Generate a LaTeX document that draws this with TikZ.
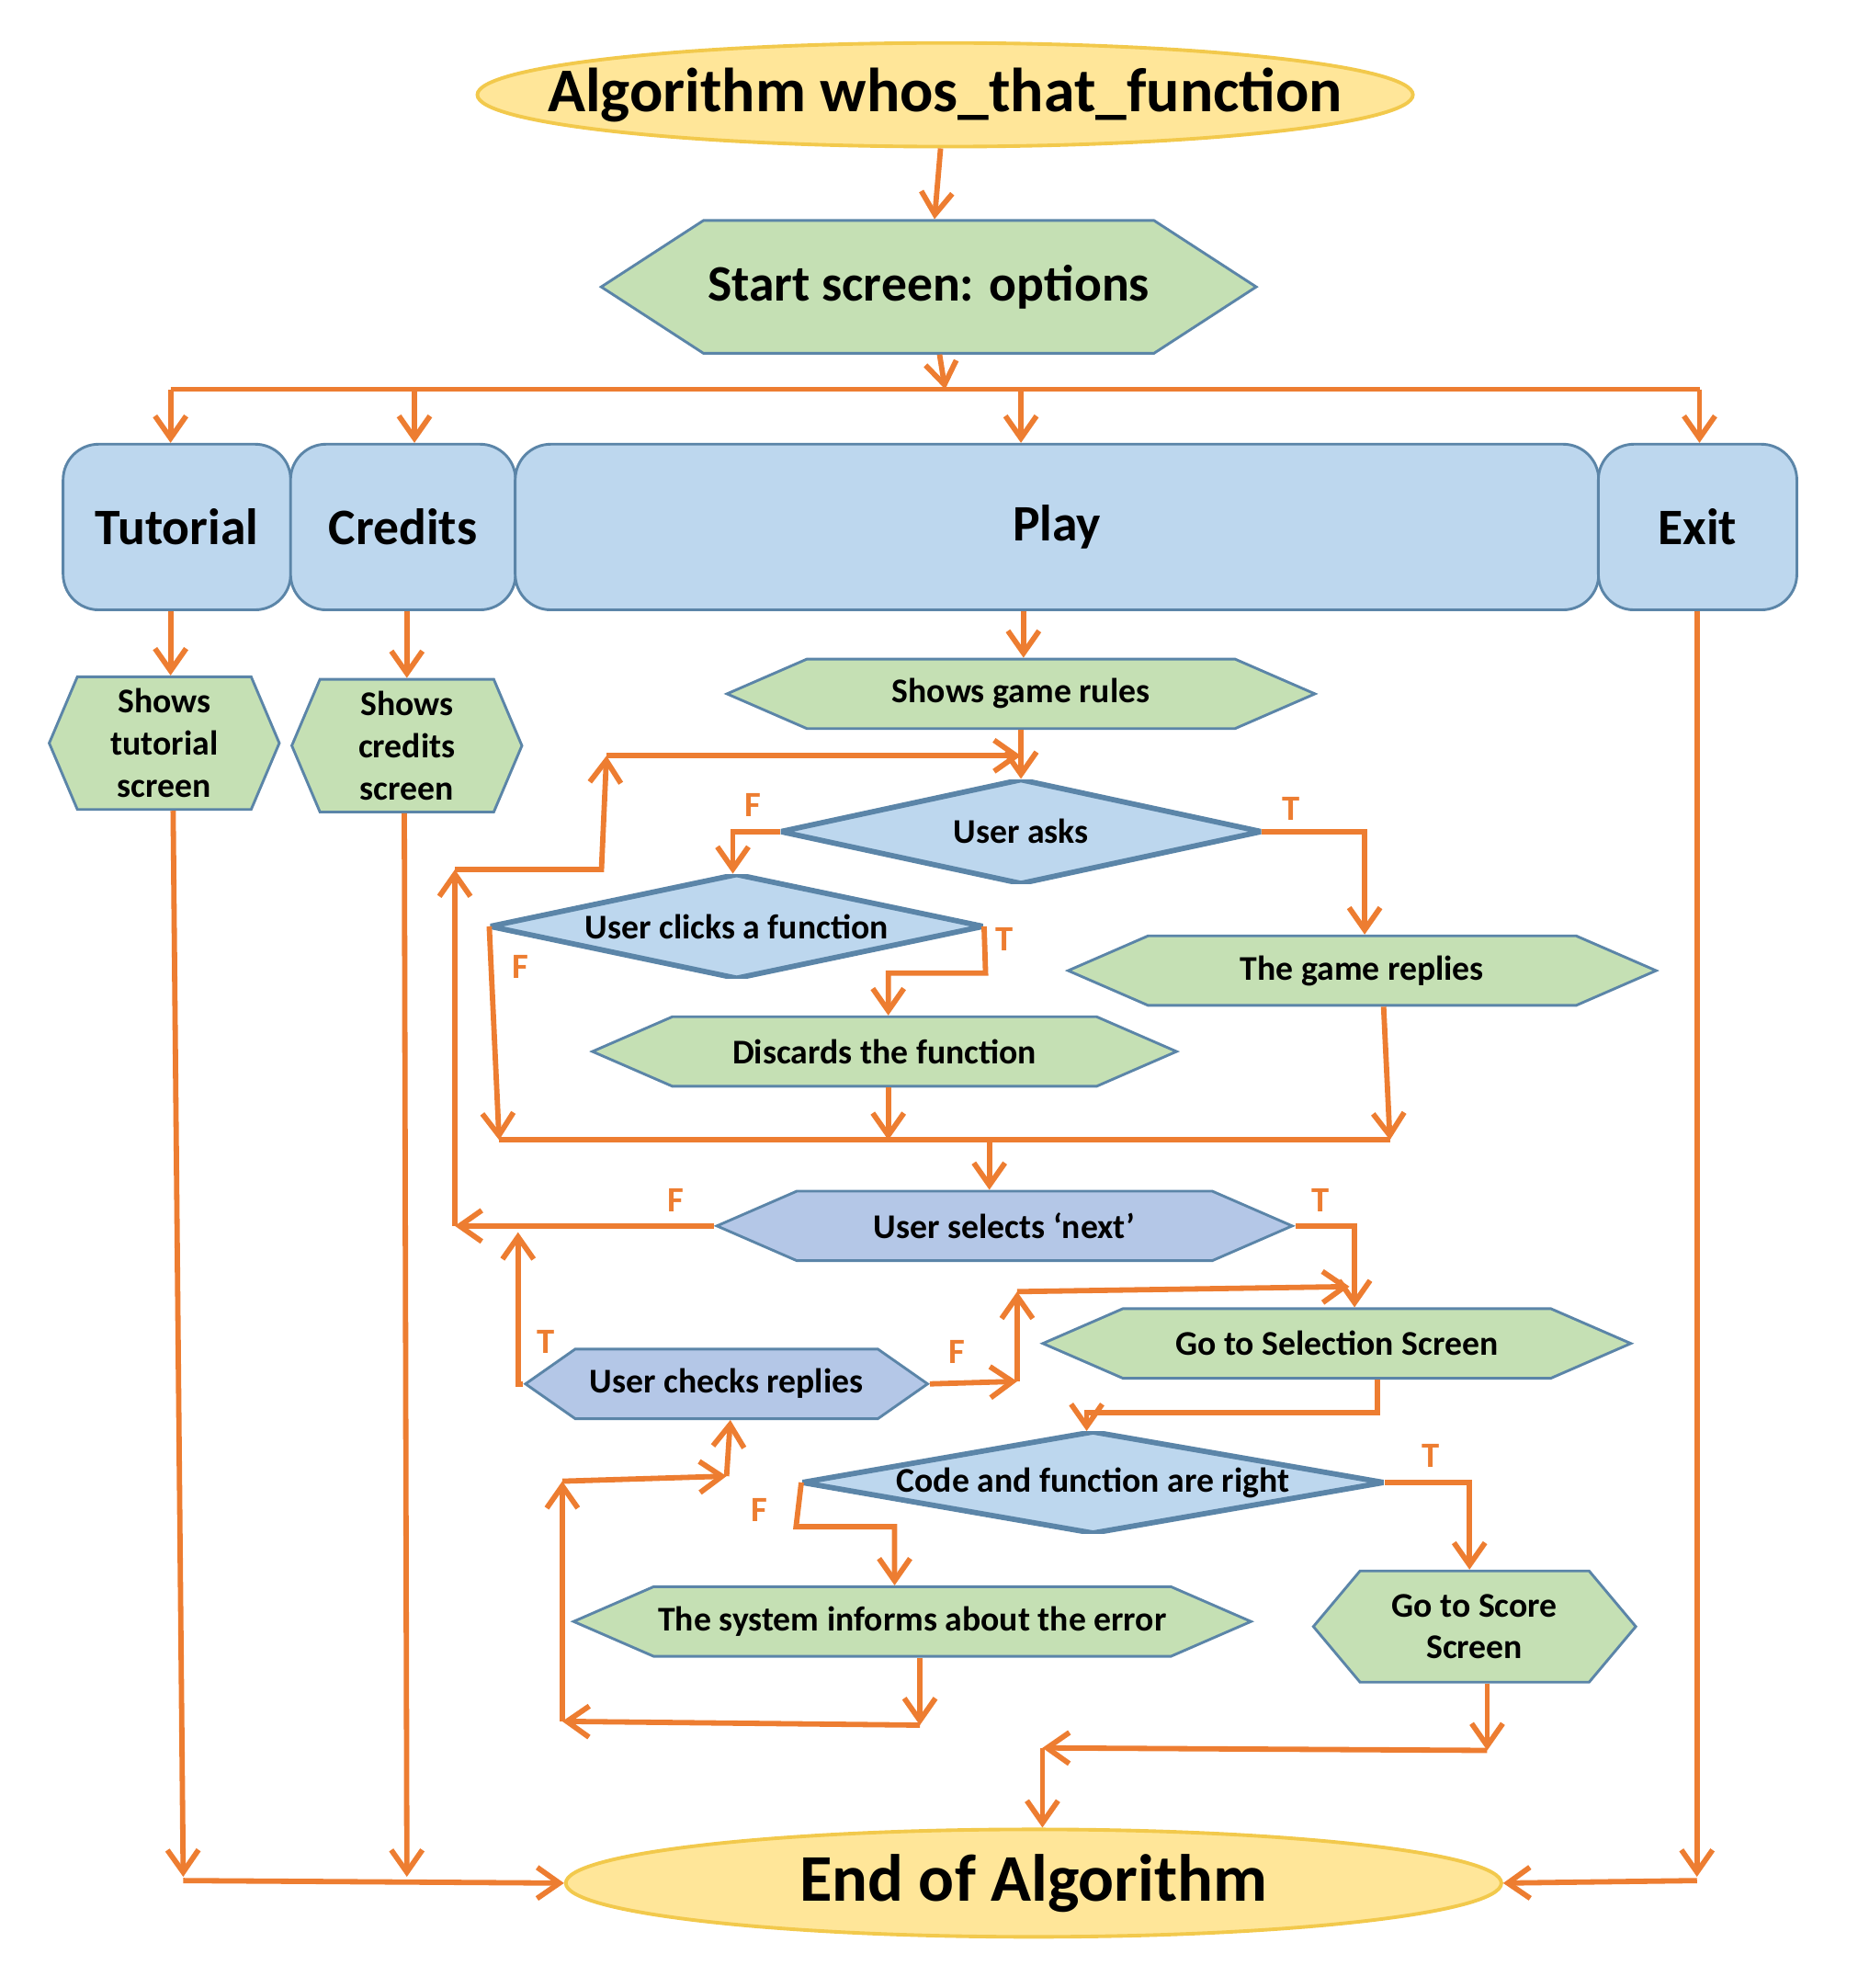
\documentclass[tikz,border=0pt]{standalone}
\usepackage{fontspec}
\setmainfont{Carlito}
\usetikzlibrary{shapes.geometric,shapes.symbols,arrows.meta}
\definecolor{gfill}{HTML}{C5E0B4}
\definecolor{bfill}{HTML}{BDD7EE}
\definecolor{dfill}{HTML}{B4C7E7}
\definecolor{yfill}{HTML}{FFE699}
\definecolor{ybord}{HTML}{F2C94C}
\definecolor{edge}{HTML}{5B85A8}
\definecolor{org}{HTML}{ED7D31}
\begin{document}
\begin{tikzpicture}[x=0.01cm,y=-0.01cm,
 every node/.style={font=\bfseries, text=black, align=center, inner sep=1pt},
 hex/.style={shape=signal, signal to=east and west, draw=edge, line width=0.6pt, fill=gfill},
 dia/.style={rectangle, inner sep=0pt, path picture={\draw[fill=bfill,draw=edge,line width=1.2pt] (path picture bounding box.west) -- (path picture bounding box.north) -- (path picture bounding box.east) -- (path picture bounding box.south) -- cycle;}},
 box/.style={draw=edge, line width=0.6pt, fill=bfill, rounded corners=8pt, minimum height=1.31cm, font=\bfseries\fontsize{11.5}{13}\selectfont},
 term/.style={ellipse, draw=ybord, line width=0.8pt, fill=yfill, inner sep=0pt},
 arr/.style={draw=org, line width=1.2pt, -{Straight Barb[length=5pt,width=7pt]}},
 ln/.style={draw=org, line width=1.2pt},
 lab/.style={text=org, font=\bfseries\fontsize{8}{9}\selectfont},
 small/.style={font=\bfseries\fontsize{7.8}{9.5}\selectfont}]
\useasboundingbox (0,0) rectangle (1470,1573);
% terminals
\node[term, inner xsep=-0.75cm, minimum width=7.4cm, minimum height=0.82cm, font=\bfseries\fontsize{14}{16}\selectfont] (title) at (748,75) {Algorithm whos\_that\_function};
\node[term, minimum width=7.4cm, minimum height=0.85cm, font=\bfseries\fontsize{15}{17}\selectfont] (end) at (818,1490) {End of Algorithm};
% start
\node[hex, minimum width=5.05cm, minimum height=1.05cm, signal pointer angle=66, font=\bfseries\fontsize{11.5}{13}\selectfont] (start) at (735,227) {Start screen: options};
% boxes
\node[box, minimum width=1.8cm] (tut) at (140,417) {Tutorial};
\node[box, minimum width=1.78cm] (cred) at (319,417) {Credits};
\node[box, minimum width=8.57cm] (play) at (836.5,417) {Play};
\node[box, minimum width=1.57cm] (exit) at (1343.5,417) {Exit};
\coordinate (bus) at (748,308);
% left hexagons
\node[hex, small, minimum width=1.82cm, minimum height=1.05cm, signal pointer angle=134] (stut) at (130,588) {Shows\\tutorial\\screen};
\node[hex, small, minimum width=1.82cm, minimum height=1.05cm, signal pointer angle=134] (scred) at (322,590) {Shows\\credits\\screen};
% play branch
\node[hex, small, minimum width=4.65cm, minimum height=0.55cm, signal pointer angle=47] (rules) at (808,549) {Shows game rules};
\node[dia, small, minimum width=3.8cm, minimum height=0.82cm] (asks) at (808,658) {User asks};
\node[dia, small, minimum width=3.9cm, minimum height=0.82cm] (clicks) at (583,733) {User clicks a function};
\node[hex, small, minimum width=4.65cm, minimum height=0.55cm, signal pointer angle=47] (reply) at (1078,768) {The game replies};
\node[hex, small, minimum width=4.62cm, minimum height=0.55cm, signal pointer angle=47] (disc) at (700,832) {Discards the function};
\node[hex, small, fill=dfill, minimum width=4.55cm, minimum height=0.55cm, signal pointer angle=47] (next) at (795,970) {User selects ‘next’};
\node[hex, small, minimum width=4.65cm, minimum height=0.55cm, signal pointer angle=47] (sel) at (1058,1063) {Go to Selection Screen};
\node[hex, small, fill=dfill, minimum width=3.18cm, minimum height=0.55cm, signal pointer angle=70] (check) at (575,1095) {User checks replies};
\node[dia, small, minimum width=4.6cm, minimum height=0.8cm] (code) at (865,1173) {Code and function are right};
\node[hex, small, minimum width=5.1cm, minimum height=0.55cm, signal pointer angle=47] (err) at (722,1283) {The system informs about the error};
\node[hex, small, minimum width=2.55cm, minimum height=0.88cm, signal pointer angle=100] (score) at (1167,1287) {Go to Score\\Screen};
% top distribution
\draw[arr] (title) -- (start);
\draw[arr] (start) -- (bus);
\draw[ln] (135,308) -- (1345,308);
\draw[arr] (135,308) -- (tut.north -| 135,0);
\draw[arr] (328,308) -- (cred.north -| 328,0);
\draw[arr] (808,308) -- (play.north -| 808,0);
\draw[arr] (1345,308) -- (exit.north -| 1345,0);
\draw[arr] (tut.south -| 135,0) -- (stut.north -| 135,0);
\draw[arr] (cred.south -| 322,0) -- (scred.north);
\draw[arr] (play.south -| 810,0) -- (rules.north -| 810,0);
% side columns to end
\coordinate (tb) at (145,1488);
\draw[arr] (stut.south -| 137,0) -- (145,1485);
\draw[arr] (scred.south -| 320,0) -- (322,1485);
\draw[arr] (tb) -- (end.west);
\draw[arr] (exit.south -| 1343,0) -- (1343,1485);
\draw[arr] (1343,1488) -- (end.east);
% play internals
\coordinate (loopTop) at (808,598);
\draw[ln] (rules.south) -- (loopTop);
\draw[arr] (loopTop) -- (asks.north);
\draw[arr] (asks.west) -- (580,658) -- (clicks.north -| 580,0);
\node[lab] at (596,637) {F};
\draw[arr] (asks.east) -- (1080,658) -- (reply.north -| 1080,0);
\node[lab] at (1022,640) {T};
\draw[arr] (clicks.east) -- (780,770) -- (703,770) -- (disc.north -| 703,0);
\node[lab] at (795,743) {T};
\draw[arr] (clicks.west) -- (395,902);
\node[lab] at (412,765) {F};
\draw[ln] (395,902) -- (1100,902);
\draw[arr] (disc.south -| 703,0) -- (703,902);
\draw[arr] (reply.south -| 1095,0) -- (1100,902);
\draw[arr] (783,902) -- (next.north -| 783,0);
% next
\coordinate (lf) at (360,970);
\draw[arr] (next.west) -- (lf);
\node[lab] at (535,950) {F};
\draw[arr] (lf) -- (360,688);
\draw[arr] (360,688) -- (476,688) -- (480,598);
\draw[arr] (480,598) -- (loopTop);
\draw[arr] (next.east) -- (1072,970) -- (sel.north -| 1072,0);
\node[lab] at (1045,950) {T};
% check
\draw[arr] (check.west) -- (410,1095) -- (410,975);
\node[lab] at (432,1062) {T};
\draw[arr] (check.east) -- (805,1093);
\draw[arr] (805,1093) -- (805,1022);
\draw[arr] (805,1022) -- (1068,1018);
\node[lab] at (757,1070) {F};
% selection to code
\draw[arr] (sel.south -| 1090,0) -- (1090,1118) -- (860,1118) -- (code.north -| 860,0);
\draw[arr] (code.west) -- (630,1208) -- (708,1208) -- (err.north -| 708,0);
\node[lab] at (601,1195) {F};
\draw[arr] (code.east) -- (1163,1173) -- (score.north -| 1163,0);
\node[lab] at (1132,1152) {T};
% error loop
\draw[arr] (err.south -| 728,0) -- (728,1365);
\draw[arr] (728,1365) -- (445,1362);
\draw[arr] (445,1362) -- (445,1172);
\draw[arr] (445,1172) -- (575,1168);
\draw[arr] (575,1168) -- (check.south -| 578,0);
% score to end
\draw[arr] (score.south -| 1177,0) -- (1177,1385);
\draw[arr] (1177,1385) -- (825,1383);
\draw[arr] (825,1383) -- (end.north -| 825,0);
\end{tikzpicture}
\end{document}
